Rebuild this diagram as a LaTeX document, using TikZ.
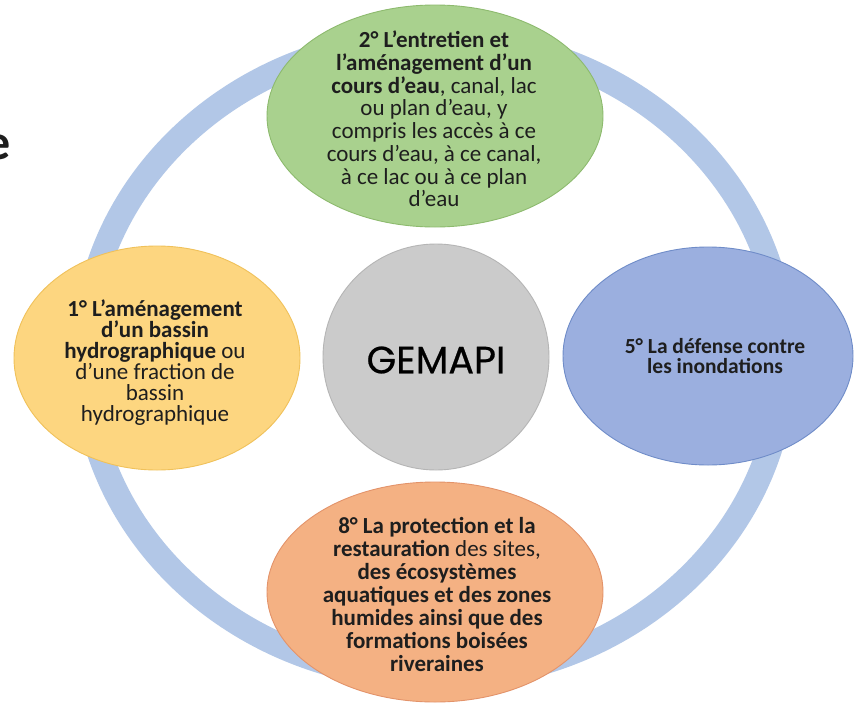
\documentclass[tikz,border=0pt]{standalone}
\usepackage{fontspec}
\setmainfont{Carlito}
\newfontfamily\gemfont[FakeBold=0.6]{Poppins}
\usetikzlibrary{shapes.geometric}
\definecolor{ringc}{HTML}{B2C7E7}
\definecolor{greenf}{HTML}{A9D18E}
\definecolor{greend}{HTML}{8DBA6E}
\definecolor{yellowf}{HTML}{FDD680}
\definecolor{yellowd}{HTML}{F0C15A}
\definecolor{bluef}{HTML}{9BAFDF}
\definecolor{blued}{HTML}{6F8CC8}
\definecolor{grayf}{HTML}{CBCBCB}
\definecolor{grayd}{HTML}{B5B5B5}
\definecolor{orangef}{HTML}{F4B183}
\definecolor{oranged}{HTML}{E3936A}
\definecolor{textc}{HTML}{1E1E1E}
\begin{document}
\begin{tikzpicture}[x=1pt,y=-1pt,
  bubble/.style={ellipse, inner sep=0pt, outer sep=0pt, line width=0.9pt},
  txt/.style={align=center, text=textc, inner sep=0pt, font=\fontsize{23}{22.7}\selectfont},
  txtsmall/.style={align=center, text=textc, inner sep=0pt, font=\fontsize{21.5}{20.5}\selectfont}]
\useasboundingbox[fill=white] (0,0) rectangle (856,704);
% cropped letter at the left edge
\node[anchor=east, inner sep=0pt, text=textc, font=\fontsize{50}{50}\selectfont\bfseries] (frag) at (11,147) {e};
% ring
\node[ellipse, draw=ringc, line width=25pt, inner sep=0pt, minimum width=700pt, minimum height=640pt] (ring) at (434,358) {};
% shapes
\node[bubble, fill=greenf, draw=greend, minimum width=336pt, minimum height=222pt] (n2) at (435,116) {};
\node[bubble, fill=yellowf, draw=yellowd, minimum width=286pt, minimum height=224pt] (n1) at (157,358) {};
\node[bubble, fill=bluef, draw=blued, minimum width=290pt, minimum height=218pt] (n5) at (708,356) {};
\node[circle, inner sep=0pt, line width=0.9pt, fill=grayf, draw=grayd, minimum size=226pt] (c) at (436,357) {};
\node[bubble, fill=orangef, draw=oranged, minimum width=336pt, minimum height=220pt] (n8) at (435,592) {};
% texts
\node[inner sep=0pt, text=black, font=\gemfont\fontsize{38}{38}\selectfont] (gem) at (436,360) {GEMAPI};
\node[txt] (t2) at (434,119) {\textbf{2° L’entretien et}\\\textbf{l’aménagement d’un}\\\textbf{cours d’eau}, canal, lac\\ou plan d’eau, y\\compris les accès à ce\\cours d’eau, à ce canal,\\à ce lac ou à ce plan\\d’eau};
\node[txt, font=\fontsize{23}{21}\selectfont] (t1) at (155,363) {\textbf{1° L’aménagement}\\\textbf{d’un bassin}\\\textbf{hydrographique} ou\\d’une fraction de\\bassin\\hydrographique};
\node[txtsmall, font=\fontsize{21.5}{20.5}\selectfont\bfseries] (t5) at (715,356) {5° La défense contre\\les inondations};
\node[txt, font=\fontsize{23}{23}\selectfont] (t8) at (437,594) {\textbf{8° La protection et la}\\\textbf{restauration} des sites,\\\textbf{des écosystèmes}\\\textbf{aquatiques et des zones}\\\textbf{humides ainsi que des}\\\textbf{formations boisées}\\\textbf{riveraines}};
\end{tikzpicture}
\end{document}
